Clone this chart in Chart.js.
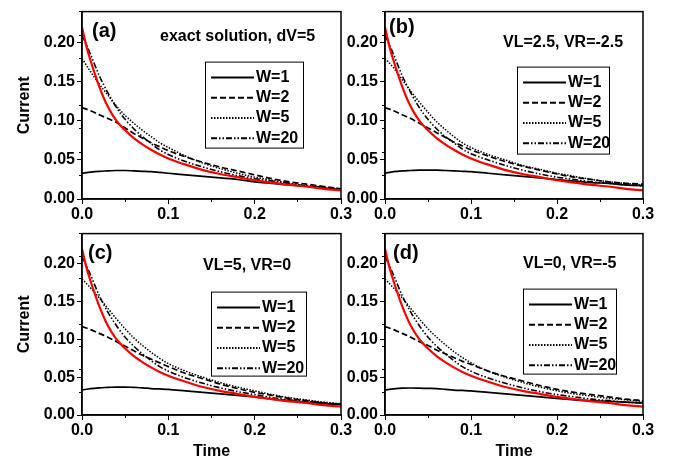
<!DOCTYPE html>
<html>
<head>
<meta charset="utf-8">
<script src="https://cdn.jsdelivr.net/npm/chart.js@4.4.1/dist/chart.umd.min.js"></script>
<style>
  html, body { margin: 0; padding: 0; background: #fff; }
  #wrap { position: relative; width: 679px; height: 466px; overflow: hidden; }
  canvas { position: absolute; }
</style>
</head>
<body>
<div id="wrap">
  <canvas id="pa" style="left:0;top:0" width="360" height="222"></canvas>
  <canvas id="pb" style="left:340px;top:0" width="339" height="222"></canvas>
  <canvas id="pc" style="left:0;top:222px" width="360" height="244"></canvas>
  <canvas id="pd" style="left:340px;top:222px" width="339" height="244"></canvas>
</div>
<script>
// time grid shared by the W curves
const timeGrid = [0, 0.01, 0.02, 0.03, 0.04, 0.05, 0.06, 0.07, 0.08, 0.09, 0.1,
                  0.12, 0.14, 0.16, 0.18, 0.2, 0.22, 0.24, 0.26, 0.28, 0.3];

// exact solution (red), same in every panel
const exactTime = [0, 0.005, 0.01, 0.02, 0.03, 0.04, 0.05, 0.06, 0.07, 0.08, 0.09, 0.1,
                   0.12, 0.14, 0.16, 0.18, 0.2, 0.22, 0.24, 0.26, 0.28, 0.3];
const exactCurrent = [0.22, 0.196, 0.177, 0.144, 0.118, 0.100, 0.088, 0.078, 0.070, 0.063, 0.057, 0.052,
                      0.044, 0.037, 0.032, 0.028, 0.024, 0.021, 0.018, 0.016, 0.013, 0.011];

// (a) exact solution, dV=5
const w1A  = [0.033, 0.0345, 0.0355, 0.036, 0.0365, 0.0365, 0.036, 0.0355, 0.035, 0.034, 0.033, 0.031, 0.029, 0.027, 0.025, 0.022, 0.020, 0.018, 0.016, 0.014, 0.012];
const w2A  = [0.117, 0.113, 0.108, 0.103, 0.098, 0.091, 0.084, 0.078, 0.072, 0.067, 0.062, 0.054, 0.047, 0.041, 0.036, 0.031, 0.026, 0.022, 0.019, 0.016, 0.013];
const w5A  = [0.18, 0.163, 0.147, 0.133, 0.119, 0.107, 0.097, 0.088, 0.080, 0.072, 0.066, 0.055, 0.046, 0.039, 0.033, 0.028, 0.024, 0.020, 0.017, 0.015, 0.012];
const w20A = [0.21, 0.185, 0.158, 0.136, 0.117, 0.102, 0.090, 0.080, 0.071, 0.063, 0.057, 0.048, 0.041, 0.035, 0.030, 0.026, 0.023, 0.020, 0.017, 0.015, 0.013];

// (b) VL=2.5, VR=-2.5
const w1B  = [0.033, 0.035, 0.036, 0.0365, 0.037, 0.037, 0.037, 0.0365, 0.036, 0.0355, 0.035, 0.033, 0.031, 0.029, 0.027, 0.025, 0.023, 0.021, 0.020, 0.018, 0.017];
const w2B  = [0.117, 0.113, 0.108, 0.103, 0.097, 0.091, 0.085, 0.079, 0.073, 0.068, 0.063, 0.055, 0.048, 0.042, 0.037, 0.032, 0.028, 0.025, 0.022, 0.020, 0.019];
const w5B  = [0.18, 0.168, 0.153, 0.138, 0.124, 0.111, 0.099, 0.089, 0.080, 0.072, 0.066, 0.057, 0.050, 0.043, 0.038, 0.033, 0.029, 0.025, 0.022, 0.020, 0.018];
const w20B = [0.21, 0.185, 0.158, 0.136, 0.117, 0.102, 0.090, 0.080, 0.072, 0.064, 0.058, 0.050, 0.043, 0.037, 0.032, 0.028, 0.025, 0.022, 0.020, 0.018, 0.017];

// (c) VL=5, VR=0
const w1C  = [0.033, 0.035, 0.036, 0.0365, 0.037, 0.037, 0.0365, 0.036, 0.035, 0.0345, 0.034, 0.032, 0.030, 0.028, 0.026, 0.024, 0.021, 0.019, 0.017, 0.015, 0.014];
const w2C  = [0.117, 0.113, 0.108, 0.103, 0.097, 0.091, 0.085, 0.079, 0.074, 0.069, 0.064, 0.055, 0.048, 0.041, 0.035, 0.030, 0.026, 0.022, 0.019, 0.016, 0.014];
const w5C  = [0.18, 0.168, 0.155, 0.141, 0.127, 0.114, 0.102, 0.092, 0.083, 0.075, 0.068, 0.058, 0.050, 0.043, 0.037, 0.032, 0.027, 0.023, 0.020, 0.017, 0.015];
const w20C = [0.21, 0.185, 0.158, 0.136, 0.118, 0.103, 0.091, 0.081, 0.072, 0.064, 0.058, 0.049, 0.042, 0.036, 0.031, 0.027, 0.023, 0.020, 0.018, 0.016, 0.014];

// (d) VL=0, VR=-5
const w1D  = [0.033, 0.0345, 0.0355, 0.0357, 0.0355, 0.0352, 0.035, 0.034, 0.033, 0.0325, 0.032, 0.030, 0.028, 0.026, 0.024, 0.022, 0.020, 0.019, 0.018, 0.017, 0.016];
const w2D  = [0.117, 0.113, 0.108, 0.103, 0.097, 0.092, 0.086, 0.081, 0.076, 0.071, 0.067, 0.058, 0.051, 0.045, 0.039, 0.034, 0.030, 0.027, 0.024, 0.021, 0.019];
const w5D  = [0.18, 0.168, 0.155, 0.141, 0.127, 0.114, 0.103, 0.093, 0.084, 0.076, 0.069, 0.058, 0.050, 0.043, 0.037, 0.032, 0.028, 0.025, 0.022, 0.020, 0.018];
const w20D = [0.21, 0.185, 0.158, 0.136, 0.118, 0.103, 0.091, 0.081, 0.072, 0.064, 0.058, 0.049, 0.042, 0.036, 0.031, 0.027, 0.024, 0.021, 0.019, 0.017, 0.016];

const seriesLabels = ['W=1', 'W=2', 'W=5', 'W=20'];
const panelTags = ['(a)', '(b)', '(c)', '(d)'];
const panelNotes = ['exact solution, dV=5', 'VL=2.5, VR=-2.5', 'VL=5, VR=0', 'VL=0, VR=-5'];

const xMajor = [0, 0.1, 0.2, 0.3];
const xMinor = [0, 0.05, 0.1, 0.15, 0.2, 0.25, 0.3];
const yMajor = [0, 0.05, 0.1, 0.15, 0.2];
const yMinor = Array.from({ length: 25 }, (_, i) => i / 100);

const FONT = '"Liberation Sans", Arial, sans-serif';
Chart.defaults.font.family = FONT;
Chart.defaults.color = '#000';

const lineStyles = [
  { dash: [], width: 1.7 },
  { dash: [6, 3], width: 1.7 },
  { dash: [1.5, 1.5], width: 1.5 },
  { dash: [6, 2, 1.5, 2, 1.5, 2], width: 1.6 },
];

const pts = (xs, ys) => xs.map((x, i) => ({ x: x, y: ys[i] }));

// frame, panel tag, note and boxed legend
const panelDeco = {
  id: 'panelDeco',
  afterDraw(chart, args, o) {
    const { ctx, chartArea: a } = chart;
    ctx.save();
    ctx.strokeStyle = '#000';
    ctx.lineWidth = 1.5;
    ctx.strokeRect(a.left, a.top, a.right - a.left, a.bottom - a.top);

    ctx.fillStyle = '#000';
    ctx.textBaseline = 'middle';
    ctx.textAlign = 'left';
    ctx.font = 'bold 20px ' + FONT;
    ctx.fillText(o.tag, a.left + o.tagPos[0], a.top + o.tagPos[1]);
    ctx.font = 'bold 16px ' + FONT;
    ctx.fillText(o.note, a.left + o.notePos[0], a.top + o.notePos[1]);

    const bx = a.left + o.box[0], by = a.top + o.box[1];
    ctx.fillStyle = '#fff';
    ctx.fillRect(bx, by, o.box[2], o.box[3]);
    ctx.lineWidth = 1;
    ctx.strokeStyle = '#000';
    ctx.strokeRect(bx + 0.5, by + 0.5, o.box[2], o.box[3]);
    ctx.fillStyle = '#000';
    seriesLabels.forEach((lab, i) => {
      const y = by + 16 + i * 20.2;
      ctx.setLineDash(lineStyles[i].dash);
      ctx.lineWidth = lineStyles[i].width + 0.3;
      ctx.beginPath();
      ctx.moveTo(bx + 6, y);
      ctx.lineTo(bx + 49, y);
      ctx.stroke();
      ctx.setLineDash([]);
      ctx.fillText(lab, bx + 51, y);
    });
    ctx.restore();
  }
};

function makePanel(id, curves, cfg) {
  const datasets = [{
    label: 'exact',
    data: pts(exactTime, exactCurrent),
    borderColor: '#ff0000',
    borderWidth: 2.2,
    pointRadius: 0,
    cubicInterpolationMode: 'monotone',
    order: 0,
  }];
  curves.forEach((ys, i) => {
    datasets.push({
      label: seriesLabels[i],
      data: pts(timeGrid, ys),
      borderColor: '#000',
      borderWidth: lineStyles[i].width,
      borderDash: lineStyles[i].dash,
      pointRadius: 0,
      cubicInterpolationMode: 'monotone',
      order: i + 1,
    });
  });

  new Chart(document.getElementById(id), {
    type: 'line',
    data: { datasets: datasets },
    plugins: [panelDeco],
    options: {
      responsive: false,
      devicePixelRatio: 1,
      animation: false,
      events: [],
      layout: { padding: cfg.padding },
      plugins: {
        legend: { display: false },
        tooltip: { enabled: false },
        panelDeco: cfg.deco,
      },
      scales: {
        x: {
          type: 'linear', min: 0, max: 0.3, weight: 1,
          afterBuildTicks: s => { s.ticks = xMajor.map(v => ({ value: v })); },
          afterFit: s => { s.height = cfg.xHeight; },
          ticks: { callback: v => v.toFixed(1), font: { size: 16, weight: 'bold' }, padding: 1, maxRotation: 0 },
          grid: { drawOnChartArea: false, tickLength: 5, tickColor: '#000', tickWidth: 1 },
          border: { color: '#000', width: 1.5 },
          title: { display: cfg.xTitle, text: 'Time', font: { size: 16, weight: 'bold' }, padding: { top: 0, bottom: 5 } },
        },
        xm: {
          type: 'linear', position: 'bottom', min: 0, max: 0.3, weight: 0,
          afterBuildTicks: s => { s.ticks = xMinor.map(v => ({ value: v })); },
          afterFit: s => { s.height = 0; },
          ticks: { callback: () => '' },
          grid: { drawOnChartArea: false, tickLength: 3, tickColor: '#000', tickWidth: 1 },
          border: { display: false },
        },
        y: {
          type: 'linear', min: 0, max: 0.24, weight: 1,
          afterBuildTicks: s => { s.ticks = yMajor.map(v => ({ value: v })); },
          afterFit: s => { s.width = cfg.yWidth; },
          ticks: { callback: v => v.toFixed(2), font: { size: 16, weight: 'bold' }, padding: 2 },
          grid: { drawOnChartArea: false, tickLength: 5, tickColor: '#000', tickWidth: 1 },
          border: { color: '#000', width: 1.5 },
          title: { display: cfg.yTitle, text: 'Current', font: { size: 16, weight: 'bold' }, padding: { top: 15, bottom: 0 } },
        },
        ym: {
          type: 'linear', position: 'left', min: 0, max: 0.24, weight: 0,
          afterBuildTicks: s => { s.ticks = yMinor.map(v => ({ value: v })); },
          afterFit: s => { s.width = 0; },
          ticks: { callback: () => '' },
          grid: { drawOnChartArea: false, tickLength: 3, tickColor: '#000', tickWidth: 1 },
          border: { display: false },
        },
      },
    },
  });
}

makePanel('pa', [w1A, w2A, w5A, w20A], {
  padding: { left: 0, top: 7, right: 19, bottom: 0 }, yWidth: 82, xHeight: 23, xTitle: false, yTitle: true,
  deco: { tag: panelTags[0], tagPos: [10, 20], note: panelNotes[0], notePos: [78, 25], box: [123, 50, 98, 86] },
});
makePanel('pb', [w1B, w2B, w5B, w20B], {
  padding: { left: 0, top: 7, right: 36, bottom: 0 }, yWidth: 45, xHeight: 23, xTitle: false, yTitle: false,
  deco: { tag: panelTags[1], tagPos: [4, 16], note: panelNotes[1], notePos: [118, 31], box: [132, 55, 92, 87] },
});
makePanel('pc', [w1C, w2C, w5C, w20C], {
  padding: { left: 0, top: 1, right: 19, bottom: 0 }, yWidth: 82, xHeight: 51, xTitle: true, yTitle: true,
  deco: { tag: panelTags[2], tagPos: [6, 20], note: panelNotes[2], notePos: [121, 32], box: [129, 58, 95, 84] },
});
makePanel('pd', [w1D, w2D, w5D, w20D], {
  padding: { left: 0, top: 1, right: 36, bottom: 0 }, yWidth: 45, xHeight: 51, xTitle: true, yTitle: false,
  deco: { tag: panelTags[3], tagPos: [8, 20], note: panelNotes[3], notePos: [138, 30], box: [138, 55, 93, 85] },
});
</script>
</body>
</html>
